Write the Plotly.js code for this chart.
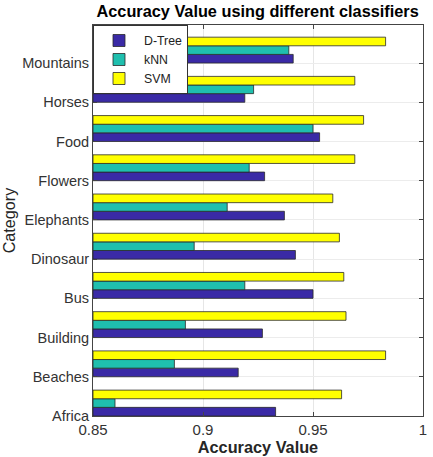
<!DOCTYPE html>
<html>
<head>
<meta charset="utf-8">
<script src="https://cdn.plot.ly/plotly-3.0.1.min.js"></script>
<style>html,body{margin:0;padding:0;background:#fff;}#chart{width:433px;height:457px;}</style>
</head>
<body>
<div id="chart"></div>
<script>
const categories = ["Africa","Beaches","Building","Bus","Dinosaur","Elephants","Flowers","Food","Horses","Mountains"];
const dtree = [0.933,0.916,0.927,0.950,0.942,0.937,0.928,0.953,0.919,0.941];
const knn   = [0.860,0.887,0.892,0.919,0.896,0.911,0.921,0.950,0.923,0.939];
const svm   = [0.963,0.983,0.965,0.964,0.962,0.959,0.969,0.973,0.969,0.983];
const seriesNames = ["D-Tree","kNN","SVM"];
const seriesColors = ["#3a2aa6","#1fbfae","#ffff00"];
const xTicks = [0.85,0.9,0.95,1];
const xTickLabels = ["0.85","0.9","0.95","1"];

const idx = categories.map((c,i)=>i);
const base = 0.85;
const barW = 0.22;
const seriesVals = [dtree, knn, svm];
const traces = seriesVals.map((vals,k)=>({
  type:'bar', orientation:'h', name:seriesNames[k],
  y: idx, x: vals.map(v=>v-base), base: base,
  width: barW, offset: k*barW,
  marker:{color:seriesColors[k], line:{color:'#2a2a2a', width:0.8}},
  hoverinfo:'x+name'
}));

const layout = {
  width:433, height:457,
  margin:{l:93, r:10, t:25, b:41},
  paper_bgcolor:'#fff', plot_bgcolor:'#fff',
  barmode:'overlay',
  font:{family:'Liberation Sans, Arial, sans-serif', color:'#262626'},
  title:{text:'<b>Accuracy Value using different classifiers</b>', font:{size:16.3, color:'#000'}, x:0.595, xanchor:'center', y:0.975, yanchor:'middle'},
  xaxis:{range:[0.85,1], tickvals:xTicks, ticktext:xTickLabels, ticks:'inside', ticklen:4, tickcolor:'#444',
    showgrid:true, gridcolor:'#e6e6e6', zeroline:false, showline:true, linecolor:'#444', mirror:'ticks',
    tickfont:{size:15, color:'#333'},
    title:{text:'<b>Accuracy Value</b>', font:{size:16.3, color:'#262626'}, standoff:3}},
  yaxis:{range:[0,9.97], tickvals:idx, ticktext:categories, ticks:'inside', ticklen:4, tickcolor:'#444',
    showgrid:true, gridcolor:'#ececec', zeroline:false, showline:true, linecolor:'#444', mirror:'ticks',
    tickfont:{size:14.5, color:'#333'},
    title:{text:'Category', font:{size:16.2, color:'#262626'}, standoff:2}},
  legend:{x:0, y:1, xanchor:'left', yanchor:'top', bgcolor:'#fff', bordercolor:'#333', borderwidth:1,
    traceorder:'normal', font:{size:12.3, color:'#222'}, itemwidth:40, tracegroupgap:0},
  showlegend:true
};
Plotly.newPlot('chart', traces, layout, {displayModeBar:false, staticPlot:true});
</script>
</body>
</html>
